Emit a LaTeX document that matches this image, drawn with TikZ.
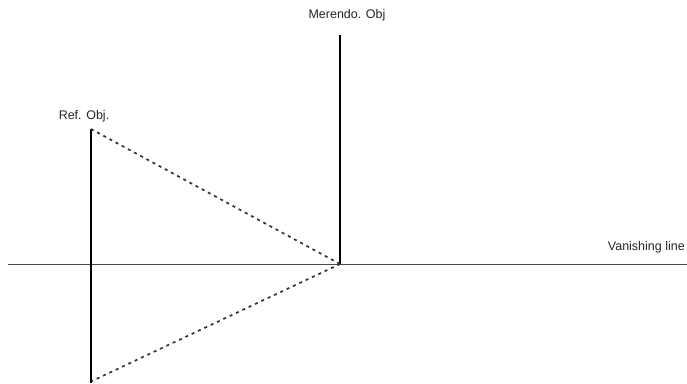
\documentclass[tikz,border=0pt]{standalone}
\usepackage{fontspec}
\setmainfont{Liberation Sans}
\begin{document}
\begin{tikzpicture}[x=1pt,y=-1pt,
  lbl/.style={inner sep=0pt,font=\fontsize{12.5}{14}\selectfont,text=black!85},
  solidline/.style={line width=1.4pt,black},
  dashline/.style={line width=1.7pt,dash pattern=on 3pt off 4pt,black!80},
  vline/.style={line width=0.6pt,black!70}]
\useasboundingbox (0,0) rectangle (687,383);
\coordinate (hl) at (8,264);
\coordinate (hr) at (687,264);
\coordinate (rtop) at (91,129);
\coordinate (rbot) at (91,383);
\coordinate (mtop) at (340,35);
\coordinate (mbot) at (340,264);
\coordinate (vp) at (340,264);
\coordinate (rlow) at (92,381);
\draw[vline] (hl) -- (hr);
\draw[solidline] (rtop) -- (rbot);
\draw[solidline] (mtop) -- (mbot);
\draw[dashline] (rtop) -- (vp);
\draw[dashline] (vp) -- (rlow);
\node[lbl] (mlabel) at (347,15) {Merendo. Obj};
\node[lbl] (rlabel) at (84,116) {Ref. Obj.};
\node[lbl,anchor=east] (vlabel) at (685,247) {Vanishing line};
\end{tikzpicture}
\end{document}
